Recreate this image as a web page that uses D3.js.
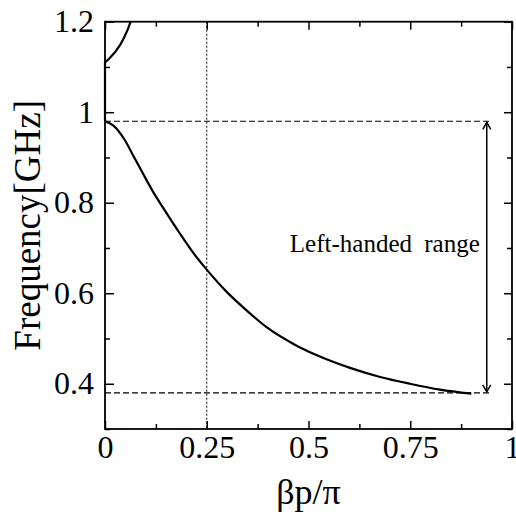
<!DOCTYPE html>
<html>
<head>
<meta charset="utf-8">
<script src="https://cdn.jsdelivr.net/npm/d3@7"></script>
<style>
  body { margin: 0; background: #fff; }
  text { font-family: "Liberation Serif", "Times New Roman", serif; fill: #000; }
</style>
</head>
<body>
<div id="chart"></div>
<script>
//data
var lowerX = [0, 0.02, 0.049, 0.07, 0.09, 0.115, 0.152, 0.184, 0.217, 0.251, 0.299, 0.348, 0.397, 0.463, 0.528, 0.602, 0.676, 0.749, 0.823, 0.90];
var lowerY = [0.98, 0.971, 0.938, 0.903, 0.870, 0.829, 0.776, 0.732, 0.689, 0.651, 0.603, 0.562, 0.525, 0.488, 0.460, 0.435, 0.415, 0.400, 0.387, 0.378];
var upperX = [0, 0, 0.01, 0.025, 0.038, 0.047, 0.056, 0.063];
var upperY = [0.98, 1.11, 1.118, 1.133, 1.15, 1.165, 1.183, 1.2];

var bandTop = 0.98;
var bandBottom = 0.38;
var bandEndX = 0.95;
var arrowX = 0.938;
var markerX = 0.25;

var xTicks = [0, 0.25, 0.5, 0.75, 1];
var xTickLabels = ['0', '0.25', '0.5', '0.75', '1'];
var xMinor = [0.125, 0.375, 0.625, 0.875];
var yTicks = [0.4, 0.6, 0.8, 1, 1.2];
var yTickLabels = ['0.4', '0.6', '0.8', '1', '1.2'];
var yMinor = [0.3, 0.5, 0.7, 0.9, 1.1];

//dims
var width = 516;
var height = 514;
var margin = { top: 21.7, right: 4, bottom: 85, left: 105 };
var w = width - margin.left - margin.right;
var h = height - margin.top - margin.bottom;

var x = d3.scaleLinear().domain([0, 1]).range([0, w]);
var y = d3.scaleLinear().domain([0.3, 1.2]).range([h, 0]);

var svg = d3.select('#chart')
    .append('svg')
    .attr('width', width)
    .attr('height', height);

var defs = svg.append('defs');
defs.append('clipPath').attr('id', 'plot')
  .append('rect').attr('width', w).attr('height', h);
defs.append('marker')
    .attr('id', 'head')
    .attr('markerUnits', 'userSpaceOnUse')
    .attr('markerWidth', 12).attr('markerHeight', 12)
    .attr('viewBox', '-10 -6 12 12')
    .attr('refX', 0).attr('refY', 0)
    .attr('orient', 'auto-start-reverse')
  .append('path')
    .attr('d', 'M-7,-4L0,0L-7,4')
    .attr('fill', 'none')
    .attr('stroke', '#000')
    .attr('stroke-width', 1.5);

var g = svg.append('g')
    .attr('transform', 'translate(' + margin.left + ',' + margin.top + ')');

//axes (ticks inward on all sides)
function styleAxis(sel) {
  sel.select('.domain').remove();
  sel.selectAll('line').attr('stroke', '#000').attr('stroke-width', 1.5);
  sel.selectAll('text').style('font-size', '32px');
}

g.append('g').attr('transform', 'translate(0,' + h + ')')
  .call(d3.axisBottom(x).tickValues(xTicks).tickSize(-8).tickPadding(6)
    .tickFormat(function(d, i) { return xTickLabels[i]; }))
  .call(styleAxis);
g.append('g').attr('transform', 'translate(0,' + h + ')')
  .call(d3.axisBottom(x).tickValues(xMinor).tickSize(-5).tickFormat(''))
  .call(styleAxis);
g.append('g')
  .call(d3.axisTop(x).tickValues(xTicks).tickSize(-8).tickFormat(''))
  .call(styleAxis);
g.append('g')
  .call(d3.axisTop(x).tickValues(xMinor).tickSize(-5).tickFormat(''))
  .call(styleAxis);

g.append('g')
  .call(d3.axisLeft(y).tickValues(yTicks).tickSize(-9).tickPadding(11)
    .tickFormat(function(d, i) { return yTickLabels[i]; }))
  .call(styleAxis);
g.append('g')
  .call(d3.axisLeft(y).tickValues(yMinor).tickSize(-5).tickFormat(''))
  .call(styleAxis);
g.append('g').attr('transform', 'translate(' + w + ',0)')
  .call(d3.axisRight(y).tickValues(yTicks).tickSize(-8).tickFormat(''))
  .call(styleAxis);
g.append('g').attr('transform', 'translate(' + w + ',0)')
  .call(d3.axisRight(y).tickValues(yMinor).tickSize(-5).tickFormat(''))
  .call(styleAxis);

//reference lines
g.append('line')
  .attr('x1', x(markerX)).attr('x2', x(markerX))
  .attr('y1', y(1.2)).attr('y2', y(0.3))
  .attr('stroke', '#000').attr('stroke-width', 1)
  .attr('stroke-dasharray', '2,2');

g.selectAll('.band')
  .data([bandTop, bandBottom])
  .enter()
  .append('line')
  .attr('class', 'band')
  .attr('x1', x(0)).attr('x2', x(bandEndX))
  .attr('y1', function(d) { return y(d); })
  .attr('y2', function(d) { return y(d); })
  .attr('stroke', '#000').attr('stroke-width', 1.2)
  .attr('stroke-dasharray', '6,3');

//curves
var line = d3.line()
  .x(function(d) { return x(d[0]); })
  .y(function(d) { return y(d[1]); });

var lowerBand = d3.zip(lowerX, lowerY);
var upperBand = d3.zip(upperX, upperY);

g.append('path')
  .datum(lowerBand)
  .attr('clip-path', 'url(#plot)')
  .attr('fill', 'none')
  .attr('stroke', '#000')
  .attr('stroke-width', 2.2)
  .attr('d', line.curve(d3.curveMonotoneX));

g.append('path')
  .datum(upperBand)
  .attr('fill', 'none')
  .attr('stroke', '#000')
  .attr('stroke-width', 2.2)
  .attr('d', line.curve(d3.curveLinear));

//frame
g.append('rect')
  .attr('width', w).attr('height', h)
  .attr('fill', 'none')
  .attr('stroke', '#000')
  .attr('stroke-width', 1.8);

//left-handed range arrow
g.append('line')
  .attr('x1', x(arrowX)).attr('x2', x(arrowX))
  .attr('y1', y(bandTop) + 1).attr('y2', y(bandBottom) - 1)
  .attr('stroke', '#000').attr('stroke-width', 1.5)
  .attr('marker-start', 'url(#head)')
  .attr('marker-end', 'url(#head)');

g.append('text')
  .attr('x', x(arrowX) - 7)
  .attr('y', y(0.69))
  .attr('text-anchor', 'end')
  .style('font-size', '25px')
  .style('word-spacing', '6px')
  .text('Left-handed range');

//axis titles
svg.append('text')
  .attr('x', margin.left + w / 2)
  .attr('y', 504)
  .attr('text-anchor', 'middle')
  .style('font-size', '36px')
  .text('βp/π');

svg.append('text')
  .attr('transform', 'translate(40,' + (margin.top + h / 2) + ') rotate(-90)')
  .attr('text-anchor', 'middle')
  .style('font-size', '37px')
  .text('Frequency[GHz]');
</script>
</body>
</html>
